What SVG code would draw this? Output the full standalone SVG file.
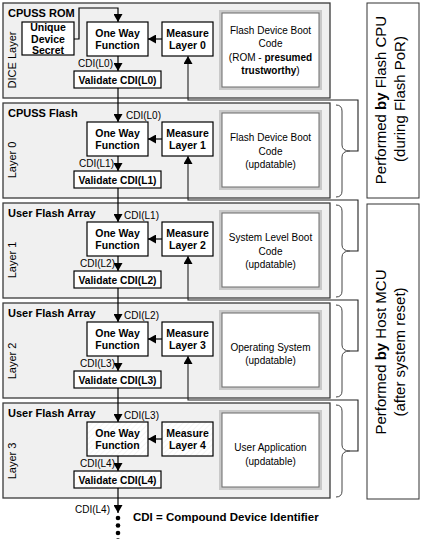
<svg xmlns="http://www.w3.org/2000/svg" width="421" height="539" viewBox="0 0 421 539">
<style>
text{font-family:"Liberation Sans",Arial,sans-serif;fill:#000}
.blk{fill:#f0f0f0;stroke:#3a3a3a;stroke-width:1.3}
.box{fill:#fff;stroke:#000;stroke-width:1.2}
.hbox{fill:url(#hatch);stroke:#000;stroke-width:1.2}
.title{font-size:11px;font-weight:bold}
.lbl{font-size:10.5px;font-weight:bold;text-anchor:middle}
.cdi{font-size:10px}
.lay{font-size:11px;text-anchor:middle}
.desc{font-size:10px;text-anchor:middle}
.tb1{fill:none;stroke:#c9c9c9;stroke-width:3}
.tb2{fill:#fff;stroke:#6a6a6a;stroke-width:1}
.ln{fill:none;stroke:#000;stroke-width:1.2}
.fb{fill:none;stroke:#222;stroke-width:1.1}
.br{fill:none;stroke:#444;stroke-width:1}
.perf{fill:#fff;stroke:#333;stroke-width:1}
.pt{font-size:15px;text-anchor:middle}
</style>
<defs>
<marker id="ah" viewBox="0 0 8 9" refX="8" refY="4.5" markerWidth="8" markerHeight="9" markerUnits="userSpaceOnUse" orient="auto">
<path d="M0,0 L8,4.5 L0,9 z" fill="#000"/>
</marker>
<pattern id="hatch" width="4" height="4" patternUnits="userSpaceOnUse" patternTransform="rotate(45)">
<rect width="4" height="4" fill="#fff"/>
<line x1="0" y1="0" x2="0" y2="4" stroke="#ececec" stroke-width="1"/>
</pattern>
</defs>

<!-- Block 0 -->
<g id="block-dice">
<rect class="blk" x="3" y="3" width="327" height="95"/>
<text class="title" x="8" y="17">CPUSS ROM</text>
<text class="lay" transform="translate(16,60) rotate(-90)">DICE Layer</text>
</g>
<g id="uds"><rect class="box" x="22" y="22" width="52" height="33"/>
<text class="lbl" x="48" y="31">Unique</text><text class="lbl" x="48" y="43">Device</text><text class="lbl" x="48" y="54">Secret</text></g>
<g id="owf0"><rect class="box" x="87" y="22" width="61" height="34"/>
<text class="lbl" x="117.5" y="37">One Way</text><text class="lbl" x="117.5" y="49">Function</text></g>
<g id="meas0"><rect class="box" x="162" y="22" width="51" height="34"/>
<text class="lbl" x="187.5" y="37">Measure</text><text class="lbl" x="187.5" y="49">Layer 0</text></g>
<g id="val0"><rect class="box" x="74" y="71" width="87" height="17"/>
<text class="lbl" x="117.5" y="83.5" textLength="78" lengthAdjust="spacingAndGlyphs">Validate CDI(L0)</text></g>
<g id="code0"><rect class="tb1" x="220.5" y="11.5" width="100" height="77"/><rect class="tb2" x="222" y="13" width="97" height="74"/>
<text class="desc" x="270.5" y="33.5">Flash Device Boot</text><text class="desc" x="270.5" y="47">Code</text>
<text class="desc" x="270.5" y="60.5">(ROM - <tspan font-weight="bold">presumed</tspan></text>
<text class="desc" x="270.5" y="74"><tspan font-weight="bold">trustworthy</tspan>)</text></g>

<!-- Block 1 -->
<g id="block-layer0">
<rect class="blk" x="3" y="103" width="327" height="95"/>
<text class="title" x="8" y="117">CPUSS Flash</text>
<text class="lay" transform="translate(16,160) rotate(-90)">Layer 0</text>
</g>
<g id="owf1"><rect class="box" x="87" y="122" width="61" height="34"/>
<text class="lbl" x="117.5" y="137">One Way</text><text class="lbl" x="117.5" y="149">Function</text></g>
<g id="meas1"><rect class="box" x="162" y="122" width="51" height="34"/>
<text class="lbl" x="187.5" y="137">Measure</text><text class="lbl" x="187.5" y="149">Layer 1</text></g>
<g id="val1"><rect class="box" x="74" y="171" width="87" height="17"/>
<text class="lbl" x="117.5" y="183.5" textLength="78" lengthAdjust="spacingAndGlyphs">Validate CDI(L1)</text></g>
<g id="code1"><rect class="tb1" x="220.5" y="111.5" width="100" height="77"/><rect class="tb2" x="222" y="113" width="97" height="74"/>
<text class="desc" x="270.5" y="140.5">Flash Device Boot</text><text class="desc" x="270.5" y="154.5">Code</text>
<text class="desc" x="270.5" y="168">(updatable)</text></g>

<!-- Block 2 -->
<g id="block-layer1">
<rect class="blk" x="3" y="203" width="327" height="95"/>
<text class="title" x="8" y="217">User Flash Array</text>
<text class="lay" transform="translate(16,260) rotate(-90)">Layer 1</text>
</g>
<g id="owf2"><rect class="box" x="87" y="222" width="61" height="34"/>
<text class="lbl" x="117.5" y="237">One Way</text><text class="lbl" x="117.5" y="249">Function</text></g>
<g id="meas2"><rect class="box" x="162" y="222" width="51" height="34"/>
<text class="lbl" x="187.5" y="237">Measure</text><text class="lbl" x="187.5" y="249">Layer 2</text></g>
<g id="val2"><rect class="box" x="74" y="271" width="87" height="17"/>
<text class="lbl" x="117.5" y="283.5" textLength="78" lengthAdjust="spacingAndGlyphs">Validate CDI(L2)</text></g>
<g id="code2"><rect class="tb1" x="220.5" y="211.5" width="100" height="77"/><rect class="tb2" x="222" y="213" width="97" height="74"/>
<text class="desc" x="270.5" y="240.5">System Level Boot</text><text class="desc" x="270.5" y="254.5">Code</text>
<text class="desc" x="270.5" y="268">(updatable)</text></g>

<!-- Block 3 -->
<g id="block-layer2">
<rect class="blk" x="3" y="303" width="327" height="95"/>
<text class="title" x="8" y="317">User Flash Array</text>
<text class="lay" transform="translate(16,361) rotate(-90)">Layer 2</text>
</g>
<g id="owf3"><rect class="box" x="87" y="322" width="61" height="34"/>
<text class="lbl" x="117.5" y="337">One Way</text><text class="lbl" x="117.5" y="349">Function</text></g>
<g id="meas3"><rect class="box" x="162" y="322" width="51" height="34"/>
<text class="lbl" x="187.5" y="337">Measure</text><text class="lbl" x="187.5" y="349">Layer 3</text></g>
<g id="val3"><rect class="box" x="74" y="371" width="87" height="17"/>
<text class="lbl" x="117.5" y="383.5" textLength="78" lengthAdjust="spacingAndGlyphs">Validate CDI(L3)</text></g>
<g id="code3"><rect class="tb1" x="220.5" y="311.5" width="100" height="77"/><rect class="tb2" x="222" y="313" width="97" height="74"/>
<text class="desc" x="270.5" y="350.5">Operating System</text><text class="desc" x="270.5" y="363.5">(updatable)</text></g>

<!-- Block 4 -->
<g id="block-layer3">
<rect class="blk" x="3" y="403" width="327" height="95"/>
<text class="title" x="8" y="417">User Flash Array</text>
<text class="lay" transform="translate(16,461) rotate(-90)">Layer 3</text>
</g>
<g id="owf4"><rect class="hbox" x="87" y="422" width="61" height="34"/>
<text class="lbl" x="117.5" y="437">One Way</text><text class="lbl" x="117.5" y="449">Function</text></g>
<g id="meas4"><rect class="hbox" x="162" y="422" width="51" height="34"/>
<text class="lbl" x="187.5" y="437">Measure</text><text class="lbl" x="187.5" y="449">Layer 4</text></g>
<g id="val4"><rect class="hbox" x="74" y="471" width="87" height="17"/>
<text class="lbl" x="117.5" y="483.5" textLength="78" lengthAdjust="spacingAndGlyphs">Validate CDI(L4)</text></g>
<g id="code4"><rect class="tb1" x="220.5" y="411.5" width="100" height="77"/><rect class="tb2" x="222" y="413" width="97" height="74"/>
<text class="desc" x="270.5" y="450.5">User Application</text><text class="desc" x="270.5" y="465">(updatable)</text></g>

<!-- Performer boxes -->
<g id="perf-flash">
<rect class="perf" x="367" y="3" width="52" height="195"/>
<text class="pt" transform="translate(386,100) rotate(-90)">Performed <tspan font-weight="bold">by</tspan> Flash CPU</text>
<text class="pt" transform="translate(405,99) rotate(-90)">(during Flash PoR)</text>
</g>
<g id="perf-host">
<rect class="perf" x="367" y="204" width="52" height="295"/>
<text class="pt" transform="translate(386,352) rotate(-90)">Performed <tspan font-weight="bold">by</tspan> Host MCU</text>
<text class="pt" transform="translate(405,352) rotate(-90)">(after system reset)</text>
</g>

<!-- Connectors -->
<g id="connectors">
<path class="ln" d="M74,39 H79 V8 H118 V22" marker-end="url(#ah)"/>
<path class="ln" d="M162,39 H148" marker-end="url(#ah)"/>
<path class="ln" d="M162,139 H148" marker-end="url(#ah)"/>
<path class="ln" d="M162,239 H148" marker-end="url(#ah)"/>
<path class="ln" d="M162,339 H148" marker-end="url(#ah)"/>
<path class="ln" d="M162,439 H148" marker-end="url(#ah)"/>
<path class="ln" d="M118,56 V71" marker-end="url(#ah)"/>
<path class="ln" d="M118,156 V171" marker-end="url(#ah)"/>
<path class="ln" d="M118,256 V271" marker-end="url(#ah)"/>
<path class="ln" d="M118,356 V371" marker-end="url(#ah)"/>
<path class="ln" d="M118,456 V471" marker-end="url(#ah)"/>
<path class="ln" d="M118,88 V122" marker-end="url(#ah)"/>
<path class="ln" d="M118,188 V222" marker-end="url(#ah)"/>
<path class="ln" d="M118,288 V322" marker-end="url(#ah)"/>
<path class="ln" d="M118,388 V422" marker-end="url(#ah)"/>
<path class="ln" d="M118,488 V513" marker-end="url(#ah)"/>
<path class="fb" d="M350,151 H358 V100 H188 V56" marker-end="url(#ah)"/>
<path class="fb" d="M350,251 H358 V200 H188 V156" marker-end="url(#ah)"/>
<path class="fb" d="M350,351 H358 V300 H188 V256" marker-end="url(#ah)"/>
<path class="fb" d="M350,451 H358 V400 H188 V356" marker-end="url(#ah)"/>
<path class="br" d="M336,105 Q342,105 342,111 V145 Q342,151 350,151 Q342,151 342,157 V191 Q342,197 336,197"/>
<path class="br" d="M336,205 Q342,205 342,211 V245 Q342,251 350,251 Q342,251 342,257 V291 Q342,297 336,297"/>
<path class="br" d="M336,305 Q342,305 342,311 V345 Q342,351 350,351 Q342,351 342,357 V391 Q342,397 336,397"/>
<path class="br" d="M336,405 Q342,405 342,411 V445 Q342,451 350,451 Q342,451 342,457 V491 Q342,497 336,497"/>
<text class="cdi" x="113" y="66.5" text-anchor="end">CDI(L0)</text>
<text class="cdi" x="126" y="118.5">CDI(L0)</text>
<text class="cdi" x="114" y="166.5" text-anchor="end">CDI(L1)</text>
<text class="cdi" x="124" y="218.5">CDI(L1)</text>
<text class="cdi" x="115" y="266.5" text-anchor="end">CDI(L2)</text>
<text class="cdi" x="124" y="318.5">CDI(L2)</text>
<text class="cdi" x="115" y="366.5" text-anchor="end">CDI(L3)</text>
<text class="cdi" x="124" y="418.5">CDI(L3)</text>
<text class="cdi" x="115" y="466.5" text-anchor="end">CDI(L4)</text>
<text class="cdi" x="110" y="512.5" text-anchor="end">CDI(L4)</text>
<circle cx="118" cy="518" r="2.3"/>
<circle cx="118" cy="525.5" r="2.3"/>
<circle cx="118" cy="533" r="2.3"/>
<circle cx="118" cy="540.5" r="2.3"/>
</g>
<text x="133" y="521" font-size="11.5" font-weight="bold">CDI = Compound Device Identifier</text>
</svg>
